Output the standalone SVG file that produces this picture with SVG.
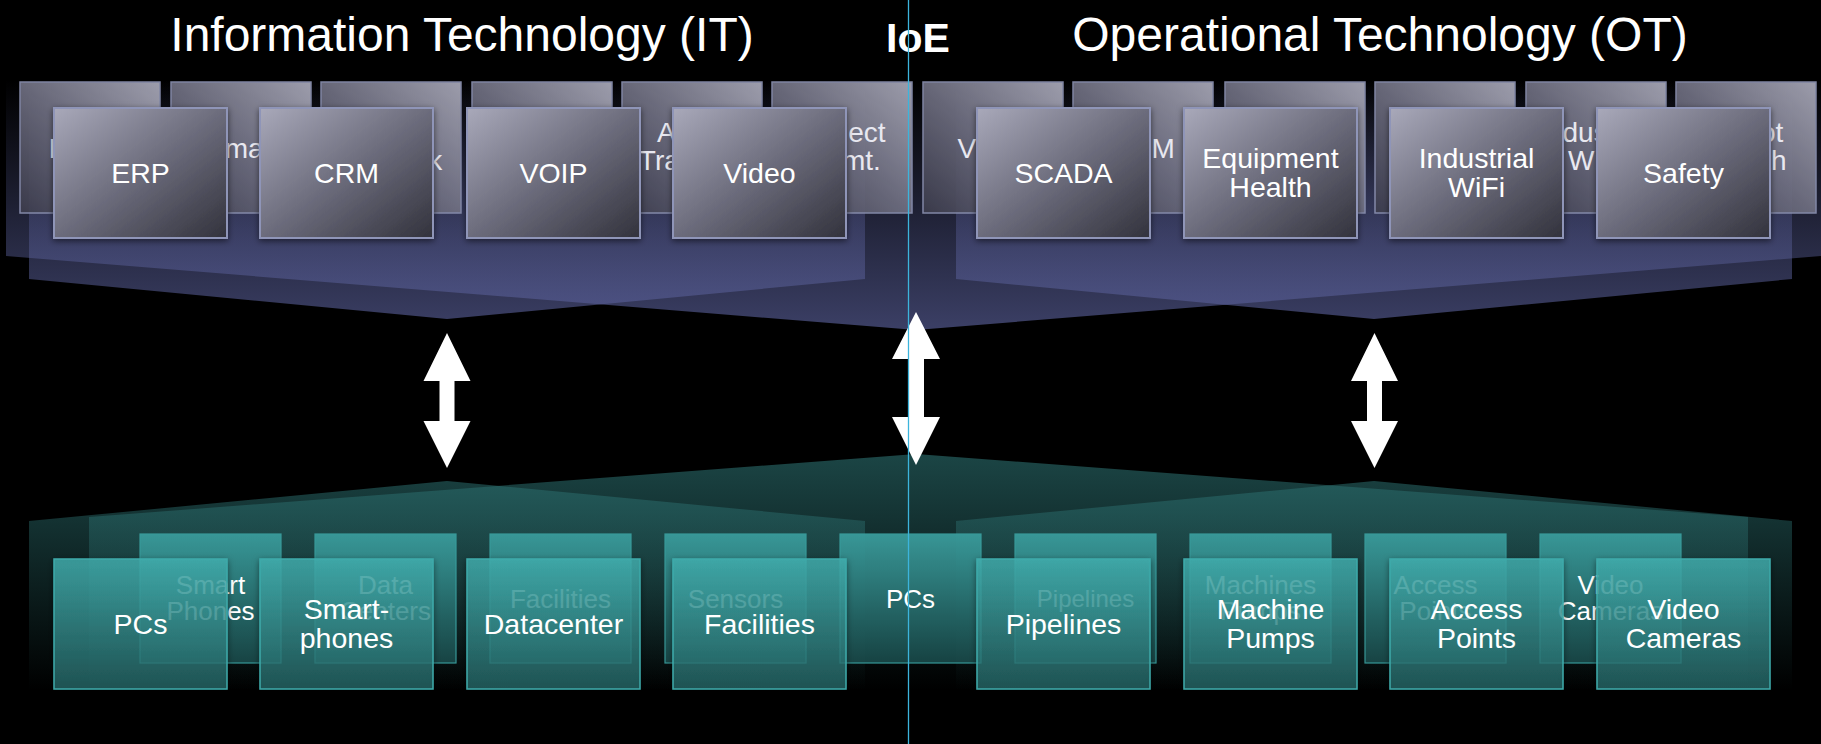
<svg xmlns="http://www.w3.org/2000/svg" width="1821" height="744" viewBox="0 0 1821 744">
<defs>
<linearGradient id="gTopFront" x1="0" y1="0" x2="1" y2="1">
<stop offset="0" stop-color="#a9a9ba"/><stop offset="0.5" stop-color="#6c6c7c"/><stop offset="1" stop-color="#32323c"/>
</linearGradient>
<linearGradient id="gTopBack" x1="1" y1="0" x2="0" y2="1">
<stop offset="0" stop-color="#aaaaba"/><stop offset="0.5" stop-color="#707082"/><stop offset="1" stop-color="#3c3c4c"/>
</linearGradient>
<linearGradient id="gBotFront" x1="0" y1="0" x2="0" y2="1">
<stop offset="0" stop-color="#43b3b3" stop-opacity="0.78"/><stop offset="1" stop-color="#286a6a" stop-opacity="0.72"/>
</linearGradient>
<linearGradient id="gBotBack" x1="0" y1="0" x2="0" y2="1">
<stop offset="0" stop-color="#3a9c9c"/><stop offset="1" stop-color="#184646"/>
</linearGradient>
<linearGradient id="gPanelTop" gradientUnits="userSpaceOnUse" x1="0" y1="80" x2="0" y2="330">
<stop offset="0" stop-color="#5a609a" stop-opacity="0"/><stop offset="1" stop-color="#5a609a" stop-opacity="0.66"/>
</linearGradient>
<linearGradient id="gPanelBot" gradientUnits="userSpaceOnUse" x1="0" y1="454" x2="0" y2="690">
<stop offset="0" stop-color="#2c7070" stop-opacity="0.62"/><stop offset="1" stop-color="#2c7070" stop-opacity="0"/>
</linearGradient>
<filter id="sh" x="-10%" y="-10%" width="120%" height="125%">
<feDropShadow dx="0" dy="2" stdDeviation="3" flood-color="#000" flood-opacity="0.55"/>
</filter>
</defs>
<style>
.title{font-family:"Liberation Sans",Arial,sans-serif;font-size:48px;fill:#fff}
.ioe{font-family:"Liberation Sans",Arial,sans-serif;font-size:41px;font-weight:bold;fill:#fff}
.tf{fill:url(#gTopFront);stroke:#8f95b8;stroke-width:2;filter:url(#sh)}
.tb{fill:url(#gTopBack);stroke:#8a90b0;stroke-width:1.5;opacity:0.92}
.bf{fill:url(#gBotFront);stroke:#3eaaaa;stroke-width:1.5;filter:url(#sh)}
.bb{fill:url(#gBotBack);stroke:#3a9e9e;stroke-width:1.2;opacity:0.95}
.lf{font-family:"Liberation Sans",Arial,sans-serif;font-size:28.5px;fill:#fff;text-anchor:middle}
.lb{font-family:"Liberation Sans",Arial,sans-serif;font-size:28px;fill:#e8e8f0;text-anchor:middle}
.lbb{font-family:"Liberation Sans",Arial,sans-serif;font-size:26px;fill:#fff;text-anchor:middle}
.pt{fill:url(#gPanelTop)}
.pb{fill:url(#gPanelBot)}
.arr{fill:#fff}
</style>
<rect width="1821" height="744" fill="#000"/>
<g id="panels">
<polygon id="panel-top-it-back" class="pt" points="6,80 916,80 916,330 6,256"/>
<polygon id="panel-top-ot-back" class="pt" points="916,80 1821,80 1821,256 916,330"/>
<polygon id="panel-top-it-front" class="pt" points="29,80 865,80 865,279 447,319 29,279"/>
<polygon id="panel-top-ot-front" class="pt" points="956,80 1792,80 1792,279 1374,319 956,279"/>
<polygon id="panel-bot-it-back" class="pb" points="89,517 916,454 916,700 89,700"/>
<polygon id="panel-bot-ot-back" class="pb" points="916,454 1748,517 1748,700 916,700"/>
<polygon id="panel-bot-it-front" class="pb" points="29,521 447,481 865,521 865,700 29,700"/>
<polygon id="panel-bot-ot-front" class="pb" points="956,521 1374,481 1792,521 1792,700 956,700"/>
</g>
<g id="titles">
<text class="title" x="462" y="51" text-anchor="middle">Information Technology (IT)</text>
<text class="ioe" x="918" y="52" text-anchor="middle">IoE</text>
<text class="title" x="1380" y="51" text-anchor="middle">Operational Technology (OT)</text>
</g>
<g id="top-back">
<g id="tb1"><rect class="tb" x="20" y="82" width="140" height="131"/><text class="lb" x="90" y="158">HRMS</text></g>
<g id="tb2"><rect class="tb" x="171" y="82" width="140" height="131"/><text class="lb" x="241" y="158">Email</text></g>
<g id="tb3"><rect class="tb" x="321" y="82" width="140" height="131"/><text class="lb" x="391" y="142">Smart</text><text class="lb" x="391" y="170">Network</text></g>
<g id="tb4"><rect class="tb" x="472" y="82" width="140" height="131"/></g>
<g id="tb5"><rect class="tb" x="622" y="82" width="140" height="131"/><text class="lb" x="692" y="142">Asset</text><text class="lb" x="692" y="170">Tracking</text></g>
<g id="tb6"><rect class="tb" x="772" y="82" width="140" height="131"/><text class="lb" x="842" y="142">Project</text><text class="lb" x="842" y="170">Mgmt.</text></g>
<g id="tb7"><rect class="tb" x="923" y="82" width="140" height="131"/><text class="lb" x="993" y="158">Video</text></g>
<g id="tb8"><rect class="tb" x="1073" y="82" width="140" height="131"/><text class="lb" x="1143" y="158">CRM</text></g>
<g id="tb9"><rect class="tb" x="1225" y="82" width="140" height="131"/></g>
<g id="tb10"><rect class="tb" x="1375" y="82" width="140" height="131"/></g>
<g id="tb11"><rect class="tb" x="1526" y="82" width="140" height="131"/><text class="lb" x="1596" y="142">Industrial</text><text class="lb" x="1596" y="170">WiFi</text></g>
<g id="tb12"><rect class="tb" x="1676" y="82" width="140" height="131"/><text class="lb" x="1746" y="142">Robot</text><text class="lb" x="1746" y="170">Health</text></g>
</g>
<g id="top-front">
<g id="erp"><rect class="tf" x="54" y="108" width="173" height="130"/><text class="lf" x="140.5" y="183">ERP</text></g>
<g id="crm"><rect class="tf" x="260" y="108" width="173" height="130"/><text class="lf" x="346.5" y="183">CRM</text></g>
<g id="voip"><rect class="tf" x="467" y="108" width="173" height="130"/><text class="lf" x="553.5" y="183">VOIP</text></g>
<g id="video"><rect class="tf" x="673" y="108" width="173" height="130"/><text class="lf" x="759.5" y="183">Video</text></g>
<g id="scada"><rect class="tf" x="977" y="108" width="173" height="130"/><text class="lf" x="1063.5" y="183">SCADA</text></g>
<g id="equip"><rect class="tf" x="1184" y="108" width="173" height="130"/><text class="lf" x="1270.5" y="168">Equipment</text><text class="lf" x="1270.5" y="197">Health</text></g>
<g id="iwifi"><rect class="tf" x="1390" y="108" width="173" height="130"/><text class="lf" x="1476.5" y="168">Industrial</text><text class="lf" x="1476.5" y="197">WiFi</text></g>
<g id="safety"><rect class="tf" x="1597" y="108" width="173" height="130"/><text class="lf" x="1683.5" y="183">Safety</text></g>
</g>
<g id="bottom-back">
<g id="bb1"><rect class="bb" x="140" y="534" width="141" height="129"/><text class="lbb" x="210.5" y="594">Smart</text><text class="lbb" x="210.5" y="620">Phones</text></g>
<g id="bb2"><rect class="bb" x="315" y="534" width="141" height="129"/><text class="lbb" x="385.5" y="594">Data</text><text class="lbb" x="385.5" y="620">Centers</text></g>
<g id="bb3"><rect class="bb" x="490" y="534" width="141" height="129"/><text class="lbb" x="560.5" y="608">Facilities</text></g>
<g id="bb4"><rect class="bb" x="665" y="534" width="141" height="129"/><text class="lbb" x="735.5" y="608">Sensors</text></g>
<g id="bb5"><rect class="bb" x="840" y="534" width="141" height="129"/><text class="lbb" x="910.5" y="608">PCs</text></g>
<g id="bb6"><rect class="bb" x="1015" y="534" width="141" height="129"/><text class="lbb" x="1085.5" y="607" style="font-size:24px">Pipelines</text></g>
<g id="bb7"><rect class="bb" x="1190" y="534" width="141" height="129"/><text class="lbb" x="1260.5" y="594">Machines</text><text class="lbb" x="1260.5" y="620">Pumps</text></g>
<g id="bb8"><rect class="bb" x="1365" y="534" width="141" height="129"/><text class="lbb" x="1435.5" y="594">Access</text><text class="lbb" x="1435.5" y="620">Points</text></g>
<g id="bb9"><rect class="bb" x="1540" y="534" width="141" height="129"/><text class="lbb" x="1610.5" y="594">Video</text><text class="lbb" x="1610.5" y="620">Cameras</text></g>
</g>
<g id="bottom-front">
<g id="pcs"><rect class="bf" x="54" y="559" width="173" height="130"/><text class="lf" x="140.5" y="634">PCs</text></g>
<g id="smartphones"><rect class="bf" x="260" y="559" width="173" height="130"/><text class="lf" x="346.5" y="619">Smart-</text><text class="lf" x="346.5" y="648">phones</text></g>
<g id="datacenter"><rect class="bf" x="467" y="559" width="173" height="130"/><text class="lf" x="553.5" y="634">Datacenter</text></g>
<g id="facilities"><rect class="bf" x="673" y="559" width="173" height="130"/><text class="lf" x="759.5" y="634">Facilities</text></g>
<g id="pipelines"><rect class="bf" x="977" y="559" width="173" height="130"/><text class="lf" x="1063.5" y="634">Pipelines</text></g>
<g id="pumps"><rect class="bf" x="1184" y="559" width="173" height="130"/><text class="lf" x="1270.5" y="619">Machine</text><text class="lf" x="1270.5" y="648">Pumps</text></g>
<g id="access"><rect class="bf" x="1390" y="559" width="173" height="130"/><text class="lf" x="1476.5" y="619">Access</text><text class="lf" x="1476.5" y="648">Points</text></g>
<g id="cameras"><rect class="bf" x="1597" y="559" width="173" height="130"/><text class="lf" x="1683.5" y="619">Video</text><text class="lf" x="1683.5" y="648">Cameras</text></g>
</g>
<g id="connectors">
<path class="arr" d="M447,333 L470.5,381 L454.5,381 L454.5,421 L470.5,421 L447,468 L423.5,421 L439.5,421 L439.5,381 L423.5,381 Z"/>
<path class="arr" d="M916,312 L940,359 L924,359 L924,417 L940,417 L916,465 L892,417 L908,417 L908,359 L892,359 Z"/>
<path class="arr" d="M1374.5,333 L1398,381 L1382,381 L1382,421 L1398,421 L1374.5,468 L1351,421 L1367,421 L1367,381 L1351,381 Z"/>
</g>
<line id="divider" x1="908.5" y1="0" x2="908.5" y2="744" stroke="#3cb4dc" stroke-width="1.3"/>
</svg>
